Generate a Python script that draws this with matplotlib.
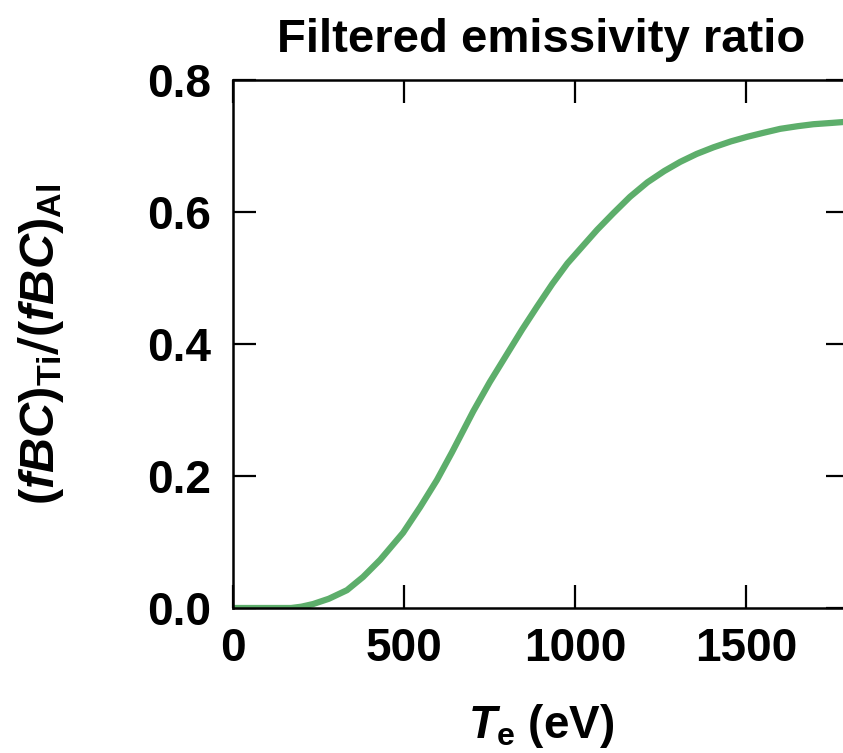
import matplotlib
matplotlib.use("Agg")
import matplotlib.pyplot as plt
import numpy as np

plt.rcParams['font.family'] = ['Liberation Sans', 'DejaVu Sans']
plt.rcParams['font.weight'] = 'bold'
plt.rcParams['axes.labelweight'] = 'bold'
plt.rcParams['mathtext.fontset'] = 'custom'
plt.rcParams['mathtext.rm'] = 'Liberation Sans:bold'
plt.rcParams['mathtext.it'] = 'Liberation Sans:bold:italic'
plt.rcParams['mathtext.bf'] = 'Liberation Sans:bold'
plt.rcParams['mathtext.sf'] = 'DejaVu Sans'

# Data
Te = [0, 100, 170, 200, 234, 280, 333, 380, 430, 497, 547, 596, 640, 702, 750,
      801, 845, 889, 933, 977, 1023, 1064, 1111, 1160, 1211, 1260, 1307, 1355,
      1404, 1455, 1503, 1550, 1599, 1650, 1696, 1750, 1800]
ratio = [0.0, 0.0, 0.0, 0.002, 0.006, 0.014, 0.027, 0.047, 0.073, 0.114,
         0.153, 0.194, 0.236, 0.298, 0.342, 0.385, 0.422, 0.457, 0.491, 0.522,
         0.549, 0.573, 0.598, 0.623, 0.645, 0.662, 0.676, 0.688, 0.698, 0.707,
         0.714, 0.720, 0.726, 0.730, 0.733, 0.735, 0.737]
xticks = [0, 500, 1000, 1500]
yticks = [0.0, 0.2, 0.4, 0.6, 0.8]
ytick_labels = ["0.0", "0.2", "0.4", "0.6", "0.8"]

fig = plt.figure(figsize=(8.43, 7.53), dpi=100)
ax = fig.add_axes([233/843, 145/753, 616/843, 528/753])
ax.plot(Te, ratio, color='#5DAE6B', lw=4.5, solid_capstyle='butt')
ax.set_xlim(0, 1800)
ax.set_ylim(0, 0.8)
ax.set_xticks(xticks)
ax.set_xticklabels([str(t) for t in xticks])
ax.set_yticks(yticks)
ax.set_yticklabels(ytick_labels)
ax.tick_params(direction='in', length=16.5, width=1.6, labelsize=33,
               top=True, right=True)
ax.tick_params(axis='y', pad=16)
ax.tick_params(axis='x', pad=14)
for s in ax.spines.values():
    s.set_linewidth(1.8)
ax.set_title("Filtered emissivity ratio", fontsize=34, fontweight='bold', pad=20)
ax.set_xlabel(r"$T_{\mathrm{e}}$ (eV)", fontsize=33, fontweight='bold', labelpad=22)
ax.set_ylabel(r"$(\mathit{fBC})_{\mathrm{Ti}}\mathsf{/}(\mathit{fBC})_{\mathrm{Al}}$",
              fontsize=35, labelpad=58)
fig.savefig("out.png", dpi=100)
